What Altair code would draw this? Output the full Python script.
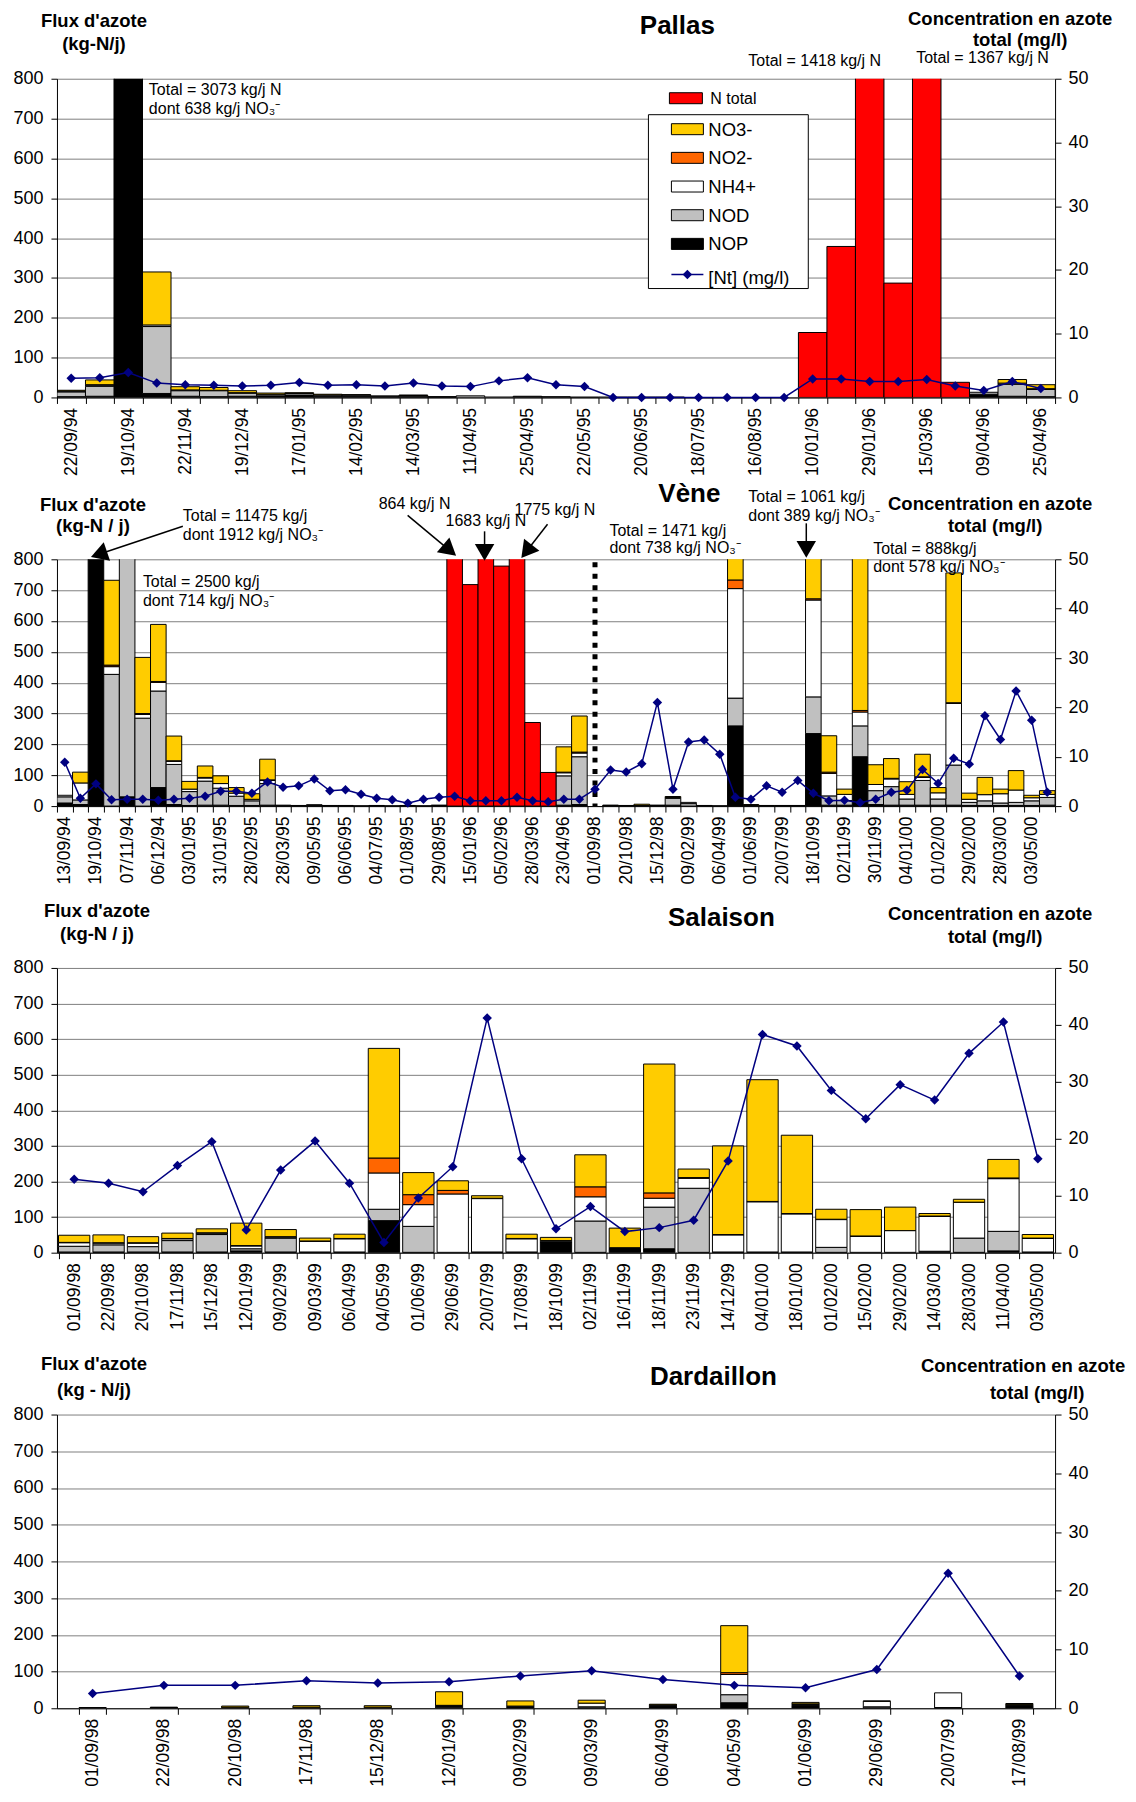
import altair as alt
import pandas as pd

FONT = "Liberation Sans"
SERIES = ["NOP", "NOD", "NH4+", "NO2-", "NO3-", "N total"]
COLORS = ["#000000", "#C0C0C0", "#FFFFFF", "#FF6600", "#FFCC00", "#FF0000"]
NAVY = "#000080"

# ---------------- Pallas ----------------
pallas_labels = ["22/09/94", "", "19/10/94", "", "22/11/94", "", "19/12/94", "", "17/01/95", "",
                 "14/02/95", "", "14/03/95", "", "11/04/95", "", "25/04/95", "", "22/05/95", "",
                 "20/06/95", "", "18/07/95", "", "16/08/95", "", "10/01/96", "", "29/01/96", "",
                 "15/03/96", "", "09/04/96", "", "25/04/96"]
pallas_nop = [2, 3, 2400, 10, 3, 2, 3, 4, 6, 3, 3, 2, 2, 1, 0, 0, 3, 2, 1, 0, 1, 0, 0, 0, 0, 0, 0, 0, 0, 0, 0, 0, 8, 3, 2]
pallas_nod = [12, 25, 20, 168, 14, 15, 8, 4, 4, 3, 3, 2, 3, 1, 4, 1, 0, 0, 0, 1, 0, 1, 0, 0, 0, 0, 0, 0, 0, 0, 0, 0, 5, 30, 18]
pallas_nh4 = [2, 3, 15, 4, 2, 1, 1, 0, 0, 0, 0, 0, 0, 0, 0, 0, 0, 0, 0, 0, 0, 0, 0, 0, 0, 0, 0, 0, 0, 0, 0, 0, 0, 3, 2]
pallas_no2 = [0, 1, 0, 0, 0, 0, 0, 0, 0, 0, 0, 0, 0, 0, 0, 0, 0, 0, 0, 0, 0, 0, 0, 0, 0, 0, 0, 0, 0, 0, 0, 0, 0, 0, 0]
pallas_no3 = [2, 12, 638, 133, 8, 7, 5, 3, 2, 2, 1, 0, 1, 0, 0, 0, 0, 0, 0, 0, 0, 0, 0, 0, 0, 0, 0, 0, 0, 0, 0, 0, 0, 9, 10]
pallas_ntot = [0, 0, 0, 0, 0, 0, 0, 0, 0, 0, 0, 0, 0, 0, 0, 0, 0, 0, 0, 0, 0, 0, 0, 0, 0, 0,
               163, 379, 1418, 287, 1367, 38, 0, 0, 0]
pallas_conc = [3.0, 3.1, 3.9, 2.25, 2.0, 1.9, 1.8, 1.9, 2.35, 1.9, 2.0, 1.8, 2.25, 1.8, 1.7, 2.6, 3.1, 2.0, 1.7,
               0, 0, 0, 0, 0, 0, 0, 2.9, 2.9, 2.5, 2.5, 2.8, 1.8, 1.1, 2.5, 1.4]

# ---------------- Vène ----------------
vene_labels = ["13/09/94", "", "19/10/94", "", "07/11/94", "", "06/12/94", "", "03/01/95", "",
               "31/01/95", "", "28/02/95", "", "28/03/95", "", "09/05/95", "", "06/06/95", "",
               "04/07/95", "", "01/08/95", "", "29/08/95", "", "15/01/96", "", "05/02/96", "",
               "28/03/96", "", "23/04/96", "", "01/09/98", "", "20/10/98", "", "15/12/98", "",
               "09/02/99", "", "06/04/99", "", "01/06/99", "", "20/07/99", "", "18/10/99", "",
               "02/11/99", "", "30/11/99", "", "04/01/00", "", "01/02/00", "", "29/02/00", "",
               "28/03/00", "", "03/05/00", ""]
vene_nop = [10, 5, 9000, 0, 30, 0, 60, 5, 2, 3, 3, 2, 2, 3, 3, 1, 3, 1, 2, 1, 1, 1, 1, 1, 2, 0, 0, 0, 0, 0,
            0, 0, 3, 5, 0, 1, 1, 1, 2, 3, 0, 1, 1, 260, 0, 1, 1, 1, 235, 3, 3, 160, 5, 3, 3, 3, 3, 3, 2, 2,
            2, 2, 2, 3]
vene_nod = [20, 15, 400, 427, 1700, 285, 313, 130, 45, 78, 55, 30, 15, 70, 0, 1, 1, 1, 0, 0, 1, 0, 1, 0, 1,
            0, 0, 0, 0, 0, 0, 0, 95, 155, 0, 1, 1, 1, 1, 22, 8, 1, 0, 90, 2, 0, 1, 0, 119, 30, 15, 100, 45,
            60, 20, 80, 20, 130, 10, 15, 8, 10, 15, 25]
vene_nh4 = [5, 55, 150, 25, 50, 12, 28, 10, 8, 10, 15, 10, 5, 10, 0, 0, 0, 0, 0, 0, 0, 0, 0, 0, 0, 0, 0, 0,
            0, 0, 0, 0, 10, 12, 0, 0, 0, 0, 0, 3, 4, 0, 0, 355, 0, 0, 0, 1, 314, 73, 20, 45, 20, 25, 15, 10,
            20, 200, 10, 20, 30, 40, 10, 10]
vene_no2 = [0, 0, 13, 5, 6, 3, 3, 2, 0, 2, 0, 0, 0, 2, 0, 0, 0, 0, 0, 0, 0, 0, 0, 0, 0, 0, 0, 0, 0, 0, 0, 0,
            2, 3, 0, 0, 0, 0, 0, 0, 0, 0, 0, 28, 0, 0, 0, 0, 4, 4, 0, 5, 0, 2, 0, 2, 0, 2, 0, 0, 0, 0, 0, 0]
vene_no3 = [0, 35, 1912, 275, 714, 182, 185, 80, 25, 37, 25, 18, 18, 67, 0, 0, 0, 0, 0, 0, 0, 0, 0, 0, 0, 0,
            0, 0, 0, 0, 0, 0, 82, 117, 0, 1, 0, 4, 0, 3, 0, 0, 0, 738, 3, 1, 0, 0, 389, 118, 17, 578, 64, 64,
            41, 73, 17, 421, 20, 56, 15, 63, 8, 12]
vene_ntot = [0, 0, 0, 0, 0, 0, 0, 0, 0, 0, 0, 0, 0, 0, 0, 0, 0, 0, 0, 0, 0, 0, 0, 0, 0,
             864, 718, 1683, 778, 1775, 271, 109,
             0, 0, 0, 0, 0, 0, 0, 0, 0, 0, 0, 0, 0, 0, 0, 0, 0, 0, 0, 0, 0, 0, 0, 0, 0, 0, 0, 0, 0, 0, 0, 0]
vene_conc = [8.9, 1.6, 4.5, 1.3, 1.4, 1.4, 1.2, 1.4, 1.6, 2.0, 3.0, 3.0, 2.6, 4.9, 3.8, 4.1, 5.5, 3.1, 3.3,
             2.4, 1.6, 1.3, 0.6, 1.4, 1.8, 2.0, 1.1, 1.1, 1.1, 1.8, 1.1, 0.9, 1.4, 1.4, 3.4, 7.3, 6.9, 8.6,
             21.0, 3.4, 13.0, 13.4, 10.5, 1.8, 1.4, 4.1, 2.8, 5.2, 2.6, 1.1, 1.2, 0.7, 1.4, 2.8, 3.2, 7.4,
             4.6, 9.7, 8.5, 18.3, 13.5, 23.3, 17.4, 2.8]
vene_separator = [34]

# ---------------- Salaison ----------------
sal_labels = ["01/09/98", "22/09/98", "20/10/98", "17/11/98", "15/12/98", "12/01/99", "09/02/99", "09/03/99",
              "06/04/99", "04/05/99", "01/06/99", "29/06/99", "20/07/99", "17/08/99", "18/10/99", "02/11/99",
              "16/11/99", "18/11/99", "23/11/99", "14/12/99", "04/01/00", "18/01/00", "01/02/00", "15/02/00",
              "29/02/00", "14/03/00", "28/03/00", "11/04/00", "03/05/00"]
sal_nop = [2, 2, 2, 2, 2, 5, 2, 1, 1, 90, 1, 0, 1, 1, 30, 1, 10, 11, 1, 1, 1, 1, 1, 0, 0, 3, 1, 5, 1]
sal_nod = [16, 20, 15, 32, 49, 6, 39, 1, 1, 32, 73, 1, 1, 1, 1, 88, 2, 117, 180, 1, 1, 1, 14, 1, 1, 1, 40, 55, 1]
sal_nh4 = [10, 5, 10, 5, 4, 8, 3, 30, 37, 102, 61, 164, 150, 37, 3, 68, 1, 25, 28, 48, 141, 107, 78, 45, 61, 98,
           100, 148, 38]
sal_no2 = [1, 1, 1, 1, 1, 1, 1, 1, 1, 42, 28, 10, 1, 1, 0, 28, 1, 15, 2, 1, 1, 1, 1, 1, 0, 1, 1, 2, 1]
sal_no3 = [20, 22, 17, 15, 11, 63, 20, 8, 12, 308, 62, 27, 7, 12, 9, 90, 55, 362, 24, 249, 342, 220, 28, 74, 66,
           7, 8, 52, 10]
sal_ntot = [0, 0, 0, 0, 0, 0, 0, 0, 0, 0, 0, 0, 0, 0, 0, 0, 0, 0, 0, 0, 0, 0, 0, 0, 0, 0, 0, 0, 0]
sal_conc = [12.9, 12.2, 10.7, 15.3, 19.5, 4.0, 14.5, 19.6, 12.2, 1.8, 9.6, 15.1, 41.2, 16.5, 4.2, 8.1, 3.7, 4.4,
            5.7, 16.1, 38.3, 36.3, 28.5, 23.5, 29.5, 26.8, 35.0, 40.5, 16.5]

# ---------------- Dardaillon ----------------
dar_labels = ["01/09/98", "22/09/98", "20/10/98", "17/11/98", "15/12/98", "12/01/99", "09/02/99", "09/03/99",
              "06/04/99", "04/05/99", "01/06/99", "29/06/99", "20/07/99", "17/08/99"]
dar_nop = [2, 2, 3, 3, 3, 3, 2, 1, 5, 15, 8, 1, 1, 8]
dar_nod = [0, 0, 0, 0, 0, 2, 2, 3, 2, 22, 2, 3, 1, 2]
dar_nh4 = [0, 0, 0, 0, 0, 2, 2, 10, 2, 55, 2, 15, 40, 1]
dar_no2 = [0, 0, 0, 0, 0, 1, 0, 0, 0, 5, 0, 0, 0, 0]
dar_no3 = [0, 1, 3, 4, 4, 37, 14, 8, 2, 128, 4, 1, 0, 2]
dar_ntot = [0, 0, 0, 0, 0, 0, 0, 0, 0, 0, 0, 0, 0, 0]
dar_conc = [2.5, 3.9, 3.9, 4.7, 4.3, 4.5, 5.5, 6.4, 4.9, 3.9, 3.5, 6.6, 23.0, 5.5]

W = 999
ONE = pd.DataFrame({"k": [0]})


def txt(s, x, y, size=16, bold=False, align="left"):
    return alt.Chart(ONE).mark_text(
        text=s, align=align, baseline="alphabetic", font=FONT, fontSize=size,
        fontWeight="bold" if bold else "normal", color="black"
    ).encode(x=alt.value(x), y=alt.value(y))


def rect(x1, y1, x2, y2, fill, sw=1):
    return alt.Chart(ONE).mark_rect(fill=fill, stroke="black", strokeWidth=sw).encode(
        x=alt.value(x1), x2=alt.value(x2), y=alt.value(y1), y2=alt.value(y2))


def seg(x1, y1, x2, y2, color="black", sw=1.5):
    return alt.Chart(ONE).mark_rule(color=color, strokeWidth=sw).encode(
        x=alt.value(x1), x2=alt.value(x2), y=alt.value(y1), y2=alt.value(y2))


def head(x, y, angle):
    return alt.Chart(ONE).mark_point(shape="triangle-down", filled=True, color="black", opacity=1,
                                     size=380, angle=angle).encode(x=alt.value(x), y=alt.value(y))


def arrow(x1, y1, hx, hy, angle):
    return [seg(x1, y1, hx, hy), head(hx, hy, angle)]


def headers(left1, left2, lx, ly1, ly2, title, tx, ty, rx, ry1, rx2, ry2):
    return [
        txt(left1, lx, ly1, 18.5, True, "center"),
        txt(left2, lx, ly2, 18.5, True, "center"),
        txt(title, tx, ty, 26, True, "center"),
        txt("Concentration en azote", rx, ry1, 18.5, True, "center"),
        txt("total (mg/l)", rx2, ry2, 18.5, True, "center"),
    ]


def panel(labels, comps, conc, pad_inner):
    n = len(labels)
    rows = []
    for k, (s, vals) in enumerate(zip(SERIES, comps)):
        for i, v in enumerate(vals):
            if v > 0:
                rows.append({"i": i, "serie": s, "v": v, "ord": k})
    bdf = pd.DataFrame(rows)
    cdf = pd.DataFrame({"i": list(range(n)), "c": conc})
    expr = "[" + ",".join("'" + l + "'" for l in labels) + "][datum.value]"
    xenc = alt.X(
        "i:O", title=None,
        scale=alt.Scale(domain=list(range(n)), paddingInner=pad_inner, paddingOuter=pad_inner / 2),
        axis=alt.Axis(labelExpr=expr, labelAngle=270, labelFontSize=17.5, labelPadding=4,
                      tickBand="extent", tickSize=6, domainColor="black", tickColor="black",
                      labelOverlap=False, labelFont=FONT, labelColor="black", grid=False))
    bars = alt.Chart(bdf).mark_bar(stroke="black", strokeWidth=1, clip=True).encode(
        x=xenc,
        y=alt.Y("v:Q", stack="zero", title=None,
                scale=alt.Scale(domain=[0, 800], nice=False),
                axis=alt.Axis(values=list(range(0, 801, 100)), grid=True, gridColor="#808080",
                              gridWidth=1, tickSize=6, labelPadding=8, labelFontSize=18,
                              domainColor="black", tickColor="black", labelFont=FONT,
                              labelColor="black", orient="left", format="d")),
        color=alt.Color("serie:N", scale=alt.Scale(domain=SERIES, range=COLORS), legend=None),
        order=alt.Order("ord:Q", sort="ascending"),
    )
    line = alt.Chart(cdf).mark_line(
        color=NAVY, strokeWidth=1.5,
        point=alt.OverlayMarkDef(shape="diamond", filled=True, size=90, color=NAVY)
    ).encode(
        x=xenc,
        y=alt.Y("c:Q", title=None, scale=alt.Scale(domain=[0, 50], nice=False),
                axis=alt.Axis(orient="right", values=[0, 10, 20, 30, 40, 50], grid=False, tickSize=6,
                              labelPadding=7, labelFontSize=18, domainColor="black",
                              tickColor="black", labelFont=FONT, labelColor="black")),
    )
    return xenc, bars, line


NO3 = "NO\u2083\u207b"

# ---- Pallas panel
H1 = 319
p1_extra = headers("Flux d'azote", "(kg-N/j)", 37, -52, -29, "Pallas", 621, -45, 954, -54, 964, -33)
p1_extra += [
    txt("Total = 3073 kg/j N", 92, 16), txt("dont 638 kg/j " + NO3, 92, 35),
    txt("Total = 1418 kg/j N", 692, -13), txt("Total = 1367 kg/j N", 860, -16),
]
p1_extra += [rect(613, 14, 646, 25, "#FF0000"), txt("N total", 654, 25, 16),
             rect(592, 36, 752, 210, "white")]
for k, (name, col) in enumerate(zip(["NO3-", "NO2-", "NH4+", "NOD", "NOP"],
                                    ["#FFCC00", "#FF6600", "#FFFFFF", "#C0C0C0", "#000000"])):
    top = 45 + 28.7 * k
    p1_extra += [rect(615, top, 647, top + 11, col), txt(name, 652, top + 12, 18.5)]
p1_extra += [seg(615, 196, 647, 196, NAVY, 1.5),
             alt.Chart(ONE).mark_point(shape="diamond", filled=True, size=90, color=NAVY, opacity=1)
             .encode(x=alt.value(631), y=alt.value(196)),
             txt("[Nt] (mg/l)", 652, 205, 18.5)]

x1, b1, l1 = panel(pallas_labels, [pallas_nop, pallas_nod, pallas_nh4, pallas_no2, pallas_no3, pallas_ntot],
                   pallas_conc, 0)
p1 = alt.layer(b1, l1, *p1_extra).resolve_scale(y="independent").properties(width=W, height=H1)

# ---- Vène panel
H2 = 247
p2_extra = headers("Flux d'azote", "(kg-N / j)", 36, -48, -27, "Vène", 633, -57, 934, -49, 939, -27)
p2_extra += [
    txt("Total = 11475 kg/j", 126, -38), txt("dont 1912 kg/j " + NO3, 126, -19),
    txt("Total = 2500 kg/j", 86, 28), txt("dont 714 kg/j " + NO3, 86, 47),
    txt("864 kg/j N", 322, -50), txt("1683 kg/j N", 389, -33), txt("1775 kg/j N", 458, -44),
    txt("Total = 1471 kg/j", 553, -23), txt("dont 738 kg/j " + NO3, 553, -6),
    txt("Total = 1061 kg/j", 692, -57), txt("dont 389 kg/j " + NO3, 692, -38),
    txt("Total = 888kg/j", 817, -5), txt("dont 578 kg/j " + NO3, 817, 13),
]
p2_extra += arrow(126, -33, 42, -5, 71)
p2_extra += arrow(351, -44, 393, -9, 310)
p2_extra += arrow(428, -28, 428, -7, 0)
p2_extra += arrow(491, -35, 470, -8, 38)
p2_extra += arrow(750, -36, 750, -10, 0)

x2, b2, l2 = panel(vene_labels, [vene_nop, vene_nod, vene_nh4, vene_no2, vene_no3, vene_ntot],
                   vene_conc, 0)
sep = alt.Chart(pd.DataFrame({"i": vene_separator})).mark_rule(
    color="black", strokeWidth=5, strokeDash=[5, 6.5], strokeCap="butt"
).encode(x=x2, y=alt.value(3), y2=alt.value(H2))
p2 = alt.layer(b2, sep, l2, *p2_extra).resolve_scale(y="independent").properties(width=W, height=H2)

# ---- Salaison panel
H3 = 285
p3_extra = headers("Flux d'azote", "(kg-N / j)", 40, -51, -28, "Salaison", 665, -42, 934, -48, 939, -25)
x3, b3, l3 = panel(sal_labels, [sal_nop, sal_nod, sal_nh4, sal_no2, sal_no3, sal_ntot], sal_conc, 0.09)
p3 = alt.layer(b3, l3, *p3_extra).resolve_scale(y="independent").properties(width=W, height=H3)

# ---- Dardaillon panel
H4 = 294
p4_extra = headers("Flux d'azote", "(kg - N/j)", 37, -45, -19, "Dardaillon", 657, -30, 967, -43, 981, -16)
x4, b4, l4 = panel(dar_labels, [dar_nop, dar_nod, dar_nh4, dar_no2, dar_no3, dar_ntot], dar_conc, 0.62)
p4 = alt.layer(b4, l4, *p4_extra).resolve_scale(y="independent").properties(width=W, height=H4)

chart = alt.vconcat(p1, p2, p3, p4, spacing=162, bounds="flush").properties(
    padding={"left": 4, "top": 0, "right": 2, "bottom": 2}
).configure(font=FONT, background="white").configure_view(stroke="transparent")

chart.save("out.html", embed_options={"renderer": "svg", "actions": False})
